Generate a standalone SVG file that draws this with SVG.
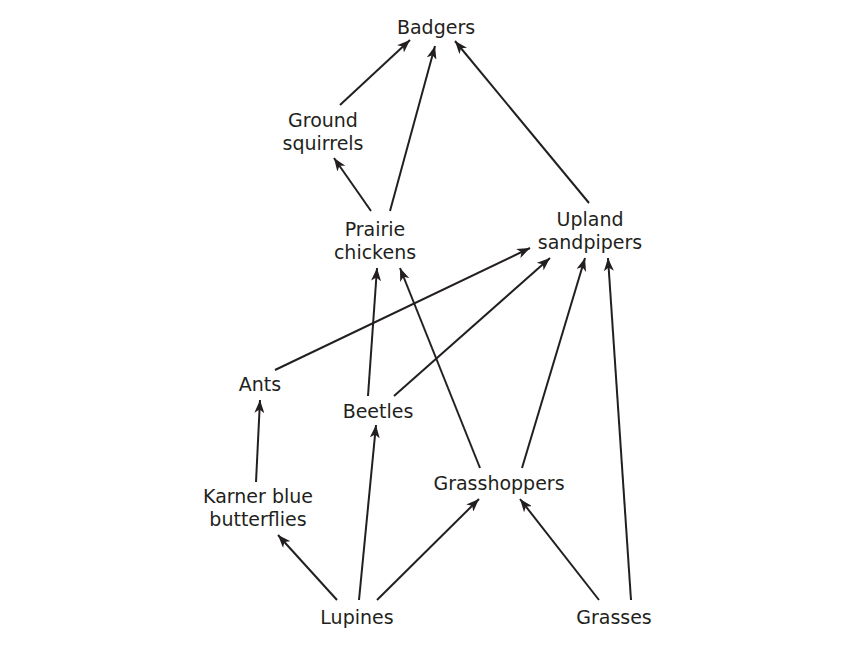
<svg xmlns="http://www.w3.org/2000/svg" width="841" height="649" viewBox="0 0 841 649">
<defs>
<style>
text{font-family:"DejaVu Sans","Noto Sans",sans-serif;font-size:19px;fill:#231f20;text-anchor:middle}
.c line{stroke:#231f20;stroke-width:2;marker-end:url(#ah)}
</style>
<marker id="ah" markerUnits="userSpaceOnUse" markerWidth="14" markerHeight="10" viewBox="0 0 14 10" refX="13" refY="5" orient="auto">
<path d="M0,0 L13,5 L0,10 L3.5,5 z" fill="#231f20"/>
</marker>
</defs>
<rect width="841" height="649" fill="#fff"/>
<g class="c" id="connectors">
<line x1="340" y1="105" x2="410" y2="40"/>
<line x1="390" y1="211" x2="435" y2="46"/>
<line x1="589" y1="203" x2="455" y2="41"/>
<line x1="371" y1="211" x2="334" y2="158"/>
<line x1="275" y1="370" x2="530" y2="248"/>
<line x1="394" y1="396" x2="550" y2="258"/>
<line x1="368" y1="396" x2="377" y2="268"/>
<line x1="480" y1="468" x2="400" y2="268"/>
<line x1="522" y1="468" x2="585" y2="258"/>
<line x1="631" y1="600" x2="608" y2="258"/>
<line x1="256" y1="482" x2="260" y2="400"/>
<line x1="337" y1="600" x2="278" y2="535"/>
<line x1="359" y1="600" x2="376" y2="425"/>
<line x1="377" y1="600" x2="479" y2="499"/>
<line x1="599" y1="600" x2="520" y2="499"/>
</g>
<g id="badgers"><text x="436" y="34">Badgers</text></g>
<g id="ground-squirrels"><text x="323" y="127">Ground</text><text x="323" y="150">squirrels</text></g>
<g id="prairie-chickens"><text x="375" y="236">Prairie</text><text x="375" y="259">chickens</text></g>
<g id="upland-sandpipers"><text x="590" y="226">Upland</text><text x="590" y="249">sandpipers</text></g>
<g id="ants"><text x="260" y="391">Ants</text></g>
<g id="beetles"><text x="378" y="418">Beetles</text></g>
<g id="karner"><text x="258" y="503">Karner blue</text><text x="258" y="526">butterflies</text></g>
<g id="grasshoppers"><text x="499" y="490">Grasshoppers</text></g>
<g id="lupines"><text x="357" y="624">Lupines</text></g>
<g id="grasses"><text x="614" y="624">Grasses</text></g>
</svg>
